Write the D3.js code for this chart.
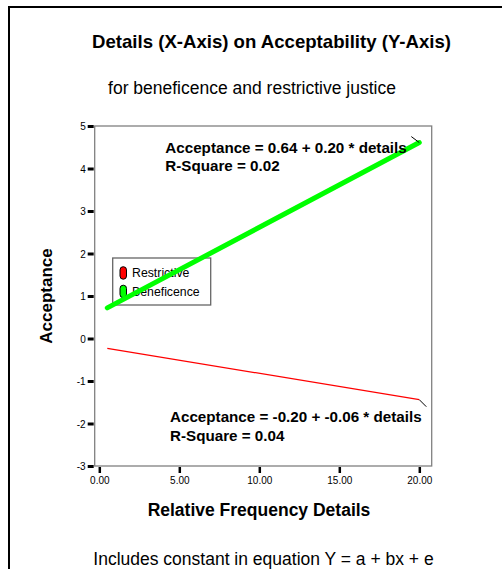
<!DOCTYPE html>
<html>
<head>
<meta charset="utf-8">
<script src="https://cdn.jsdelivr.net/npm/d3@7/dist/d3.min.js"></script>
<style>
  html, body { margin: 0; padding: 0; background: #fff; }
  svg { display: block; }
  text { font-family: "Liberation Sans", Arial, sans-serif; fill: #000; }
</style>
</head>
<body>
<script>
// ---- data ----
const xTickValues = [0, 5, 10, 15, 20];
const xTickLabels = ["0.00", "5.00", "10.00", "15.00", "20.00"];
const yTickValues = [-3, -2, -1, 0, 1, 2, 3, 4, 5];
const yTickLabels = ["-3", "-2", "-1", "0", "1", "2", "3", "4", "5"];
const seriesNames = ["Restrictive", "Beneficence"];
const seriesColors = ["#ff0000", "#00ff00"];
const restrictiveX = [0.5, 20];
const restrictiveY = [-0.23, -1.44];
const beneficenceX = [0.5, 20];
const beneficenceY = [0.72, 4.61];
const annotations = [
  ["Acceptance = 0.64 + 0.20 * details", "R-Square = 0.02"],
  ["Acceptance = -0.20 + -0.06 * details", "R-Square = 0.04"]
];

const W = 502, H = 569;
const svg = d3.select("body").append("svg").attr("width", W).attr("height", H);

// outer frame
svg.append("path").attr("d", `M9,${H} V7 H${W}`).attr("fill", "none")
  .attr("stroke", "#000").attr("stroke-width", 2);

// plot frame
const frame = { left: 94.7, right: 431.7, top: 126, bottom: 466 };
const x = d3.scaleLinear().domain([0, 20]).range([99.3, 419.3]);
const y = d3.scaleLinear().domain([-3, 5]).range([frame.bottom, frame.top]);

svg.append("rect")
  .attr("x", frame.left).attr("y", frame.top)
  .attr("width", frame.right - frame.left).attr("height", frame.bottom - frame.top)
  .attr("fill", "none").attr("stroke", "#808080").attr("stroke-width", 1.3);

// y axis
const yAxis = d3.axisLeft(y).tickValues(yTickValues)
  .tickFormat((d, i) => yTickLabels[i]).tickSize(0).tickPadding(0);
const gy = svg.append("g").attr("transform", `translate(${frame.left},0)`).call(yAxis);
gy.select(".domain").remove();
gy.selectAll(".tick").append("line")
  .attr("x1", -7).attr("x2", -1).attr("y1", 0).attr("y2", 0)
  .attr("stroke", "#000").attr("stroke-width", 3);
gy.selectAll(".tick text").attr("x", -9).attr("dy", "0.36em")
  .style("font-size", "10px").style("font-family", '"Liberation Sans", Arial, sans-serif')
  .attr("fill", "#000");

// x axis
const xAxis = d3.axisBottom(x).tickValues(xTickValues)
  .tickFormat((d, i) => xTickLabels[i]).tickSize(0).tickPadding(0);
const gx = svg.append("g").attr("transform", `translate(0,${frame.bottom})`).call(xAxis);
gx.select(".domain").remove();
gx.selectAll(".tick").append("line")
  .attr("x1", 0).attr("x2", 0).attr("y1", 1).attr("y2", 7)
  .attr("stroke", "#000").attr("stroke-width", 2.5);
gx.selectAll(".tick text").attr("y", 18.3).attr("dy", 0)
  .style("font-size", "10px").style("font-family", '"Liberation Sans", Arial, sans-serif')
  .attr("fill", "#000");

// legend (drawn beneath lines)
const lg = svg.append("g").attr("transform", "translate(112.7,258)");
lg.append("rect").attr("width", 98).attr("height", 47)
  .attr("fill", "#fff").attr("stroke", "#666").attr("stroke-width", 1.3);
seriesNames.forEach((n, i) => {
  const row = lg.append("g").attr("transform", `translate(0,${8.7 + i * 18.5})`);
  row.append("rect").attr("x", 7.3).attr("y", 0).attr("width", 6.5).attr("height", 12.5)
    .attr("rx", 3.2).attr("fill", seriesColors[i]).attr("stroke", "#000").attr("stroke-width", 1);
  row.append("text").attr("x", 19.3).attr("y", 10.6).style("font-size", "12.3px").text(n);
});

// lines
const line = d3.line().x(d => x(d[0])).y(d => y(d[1]));
const restrictive = restrictiveX.map((v, i) => [v, restrictiveY[i]]);
const beneficence = beneficenceX.map((v, i) => [v, beneficenceY[i]]);
svg.append("path").datum(restrictive).attr("d", line)
  .attr("fill", "none").attr("stroke", seriesColors[0]).attr("stroke-width", 1.3);
svg.append("path").datum(beneficence).attr("d", line)
  .attr("fill", "none").attr("stroke", seriesColors[1]).attr("stroke-width", 5)
  .attr("stroke-linecap", "round");

// leader ticks at line ends
const bEnd = beneficence[beneficence.length - 1];
svg.append("line").attr("x1", x(bEnd[0])).attr("y1", y(bEnd[1]))
  .attr("x2", x(bEnd[0]) - 8).attr("y2", y(bEnd[1]) - 6).attr("stroke", "#000").attr("stroke-width", 1);
const rEnd = restrictive[restrictive.length - 1];
svg.append("line").attr("x1", x(rEnd[0])).attr("y1", y(rEnd[1]))
  .attr("x2", x(rEnd[0]) + 7).attr("y2", y(rEnd[1]) + 7).attr("stroke", "#000").attr("stroke-width", 1);

// annotations
const annPos = [[165.3, 152.7], [170, 422.3]];
annotations.forEach((lines, k) => {
  lines.forEach((t, j) => {
    svg.append("text").attr("x", annPos[k][0]).attr("y", annPos[k][1] + j * 18.5)
      .style("font-size", "15.2px").style("font-weight", "bold").text(t);
  });
});

// titles
svg.append("text").attr("x", 271.5).attr("y", 47.7).attr("text-anchor", "middle")
  .style("font-size", "18.6px").style("font-weight", "bold")
  .text("Details (X-Axis) on Acceptability (Y-Axis)");
svg.append("text").attr("x", 252).attr("y", 94.3).attr("text-anchor", "middle")
  .style("font-size", "17.5px").text("for beneficence and restrictive justice");
svg.append("text").attr("x", 259).attr("y", 515.7).attr("text-anchor", "middle")
  .style("font-size", "17.5px").style("font-weight", "bold").text("Relative Frequency Details");
svg.append("text").attr("transform", "translate(51.7,296) rotate(-90)").attr("text-anchor", "middle")
  .style("font-size", "17px").style("font-weight", "bold").text("Acceptance");
svg.append("text").attr("x", 263.5).attr("y", 565).attr("text-anchor", "middle")
  .style("font-size", "17.5px").text("Includes constant in equation Y = a + bx + e");
</script>
</body>
</html>
